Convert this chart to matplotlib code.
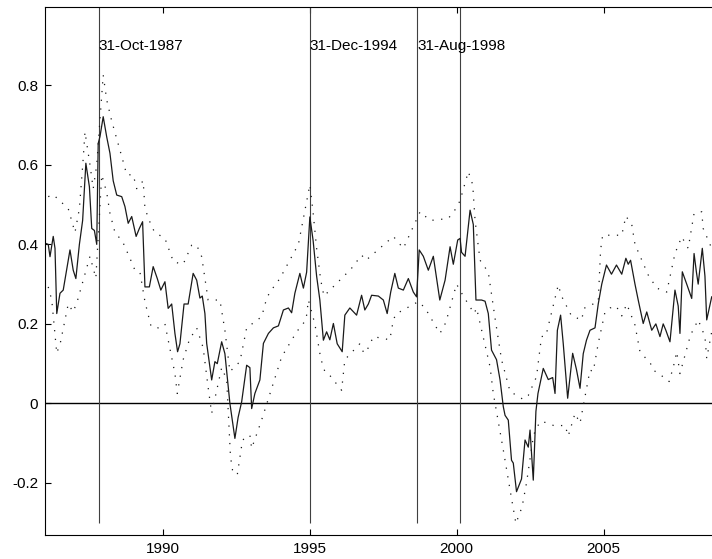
import numpy as np
import matplotlib
matplotlib.use("Agg")
import matplotlib.pyplot as plt

plt.rcParams['font.family'] = ['Liberation Sans', 'DejaVu Sans']

# ana seri (yil, deger)
yil = [1986.00, 1986.11, 1986.17, 1986.28, 1986.34, 1986.40, 1986.51, 1986.62, 1986.85, 1986.96,
       1987.05, 1987.17, 1987.28, 1987.39, 1987.51, 1987.59, 1987.68, 1987.76, 1987.81, 1987.87,
       1987.98, 1988.10, 1988.21, 1988.32, 1988.44, 1988.61, 1988.72, 1988.83, 1988.95, 1989.10,
       1989.21, 1989.32, 1989.40, 1989.55, 1989.68, 1989.82, 1989.94, 1990.08, 1990.19, 1990.31,
       1990.42, 1990.51, 1990.59, 1990.73, 1990.87, 1991.04, 1991.16, 1991.27, 1991.35, 1991.44,
       1991.50, 1991.67, 1991.78, 1991.86, 1992.01, 1992.12, 1992.29, 1992.46, 1992.57, 1992.69,
       1992.86, 1992.97, 1993.03, 1993.14, 1993.31, 1993.43, 1993.60, 1993.77, 1993.94, 1994.11,
       1994.28, 1994.39, 1994.50, 1994.67, 1994.79, 1994.90, 1995.01, 1995.12, 1995.24, 1995.35,
       1995.47, 1995.58, 1995.69, 1995.81, 1995.94, 1996.11, 1996.20, 1996.37, 1996.60, 1996.77,
       1996.88, 1997.00, 1997.11, 1997.34, 1997.51, 1997.64, 1997.76, 1997.90, 1998.02, 1998.19,
       1998.36, 1998.53, 1998.64, 1998.73, 1998.87, 1999.04, 1999.21, 1999.43, 1999.61, 1999.78,
       1999.89, 2000.04, 2000.12, 2000.17, 2000.29, 2000.46, 2000.57, 2000.66, 2000.85, 2000.97,
       2001.08, 2001.19, 2001.36, 2001.48, 2001.59, 2001.65, 2001.76, 2001.87, 2001.93, 2002.04,
       2002.21, 2002.33, 2002.44, 2002.50, 2002.61, 2002.70, 2002.77, 2002.95, 2003.12, 2003.27,
       2003.35, 2003.43, 2003.54, 2003.63, 2003.78, 2003.95, 2004.08, 2004.20, 2004.31, 2004.42,
       2004.54, 2004.71, 2004.82, 2004.94, 2005.10, 2005.27, 2005.44, 2005.62, 2005.76, 2005.84,
       2005.92, 2006.07, 2006.18, 2006.35, 2006.47, 2006.64, 2006.78, 2006.92, 2007.03, 2007.12,
       2007.26, 2007.43, 2007.54, 2007.60, 2007.68, 2007.83, 2008.00, 2008.08, 2008.16, 2008.22,
       2008.36, 2008.45, 2008.51, 2008.68]
deger = [0.403, 0.40, 0.369, 0.42, 0.39, 0.226, 0.277, 0.285, 0.386, 0.335,
         0.314, 0.40, 0.46, 0.604, 0.545, 0.44, 0.435, 0.40, 0.654, 0.671,
         0.721, 0.67, 0.629, 0.56, 0.524, 0.52, 0.495, 0.453, 0.47, 0.42,
         0.44, 0.457, 0.293, 0.293, 0.344, 0.314, 0.285, 0.306, 0.239, 0.25,
         0.176, 0.13, 0.15, 0.25, 0.25, 0.327, 0.31, 0.265, 0.27, 0.226,
         0.151, 0.059, 0.105, 0.10, 0.155, 0.125, 0.0, -0.088, -0.035, 0.004,
         0.096, 0.09, -0.013, 0.025, 0.059, 0.151, 0.176, 0.19, 0.195, 0.235,
         0.24, 0.228, 0.277, 0.327, 0.29, 0.33, 0.469, 0.41, 0.32, 0.26,
         0.159, 0.18, 0.16, 0.201, 0.15, 0.13, 0.222, 0.24, 0.222, 0.272,
         0.235, 0.25, 0.272, 0.27, 0.26, 0.226, 0.28, 0.327, 0.29, 0.285,
         0.314, 0.28, 0.268, 0.386, 0.37, 0.335, 0.37, 0.26, 0.31, 0.394,
         0.35, 0.411, 0.415, 0.38, 0.37, 0.486, 0.45, 0.26, 0.26, 0.257,
         0.226, 0.134, 0.11, 0.059, -0.008, -0.03, -0.042, -0.143, -0.15, -0.222,
         -0.19, -0.092, -0.11, -0.067, -0.193, -0.02, 0.025, 0.088, 0.06, 0.065,
         0.025, 0.184, 0.222, 0.15, 0.013, 0.126, 0.085, 0.038, 0.125, 0.159,
         0.184, 0.19, 0.25, 0.30, 0.348, 0.325, 0.348, 0.325, 0.365, 0.35,
         0.36, 0.30, 0.26, 0.201, 0.23, 0.184, 0.20, 0.168, 0.20, 0.184,
         0.155, 0.285, 0.245, 0.176, 0.331, 0.30, 0.264, 0.377, 0.33, 0.30,
         0.39, 0.32, 0.21, 0.268]

# ust bant
ust_yil = [1986.11, 1986.28, 1986.79, 1987.02, 1987.17, 1987.30, 1987.36, 1987.53, 1987.64, 1987.76,
           1987.98, 1988.10, 1988.27, 1988.66, 1988.78, 1989.00, 1989.12, 1989.34, 1989.40, 1989.63,
           1989.74, 1990.08, 1990.37, 1990.70, 1990.99, 1991.16, 1991.33, 1991.55, 1991.95, 1992.12,
           1992.29, 1992.63, 1992.86, 1993.37, 1993.54, 1993.65, 1993.99, 1994.45, 1994.62, 1995.01,
           1995.12, 1995.24, 1995.38, 1995.49, 1996.26, 1996.43, 1996.77, 1996.92, 1997.85, 1998.19,
           1998.76, 1999.10, 1999.72, 1999.98, 2000.12, 2000.40, 2000.55, 2000.63, 2000.80, 2001.08,
           2001.31, 2001.53, 2001.82, 2002.27, 2002.44, 2002.72, 2002.89, 2003.04, 2003.46, 2003.57,
           2003.91, 2004.26, 2004.33, 2004.82, 2004.90, 2004.97, 2005.62, 2005.76, 2005.96, 2006.07,
           2006.52, 2006.81, 2007.15, 2007.43, 2007.66, 2007.88, 2008.08, 2008.34, 2008.39, 2008.68]
ust = [0.52, 0.525, 0.49, 0.43, 0.49, 0.616, 0.683, 0.60, 0.54, 0.60,
       0.826, 0.763, 0.71, 0.608, 0.575, 0.575, 0.54, 0.56, 0.49, 0.444,
       0.43, 0.415, 0.356, 0.35, 0.398, 0.398, 0.369, 0.26, 0.26, 0.184,
       0.08, 0.105, 0.19, 0.218, 0.264, 0.28, 0.314, 0.377, 0.40, 0.55,
       0.48, 0.39, 0.31, 0.27, 0.327, 0.34, 0.373, 0.36, 0.42, 0.39,
       0.482, 0.46, 0.465, 0.49, 0.51, 0.583, 0.55, 0.46, 0.36, 0.33,
       0.214, 0.11, 0.03, 0.01, 0.02, 0.067, 0.168, 0.17, 0.298, 0.27,
       0.22, 0.21, 0.239, 0.256, 0.386, 0.423, 0.423, 0.471, 0.45, 0.40,
       0.323, 0.29, 0.28, 0.377, 0.419, 0.39, 0.478, 0.482, 0.44, 0.39]

# alt bant
alt_yil = [1986.11, 1986.23, 1986.40, 1986.53, 1986.79, 1986.96, 1987.11, 1987.53, 1987.64, 1987.73,
           1987.93, 1988.10, 1988.21, 1988.38, 1988.64, 1988.89, 1989.06, 1989.23, 1989.40, 1989.61,
           1989.85, 1990.08, 1990.42, 1990.50, 1990.70, 1990.91, 1991.16, 1991.38, 1991.55, 1991.67,
           1992.01, 1992.18, 1992.31, 1992.38, 1992.54, 1992.72, 1992.97, 1993.03, 1993.35, 1993.42,
           1994.05, 1994.56, 1994.88, 1994.96, 1995.18, 1995.38, 1995.52, 1995.64, 1996.09, 1996.20,
           1996.71, 1996.85, 1997.00, 1997.17, 1997.73, 1997.85, 1997.94, 1998.70, 1998.93, 1999.43,
           1999.55, 1999.64, 2000.00, 2000.23, 2000.60, 2000.68, 2001.14, 2001.25, 2001.59, 2001.87,
           2002.02, 2002.23, 2002.38, 2002.61, 2002.67, 2002.84, 2003.04, 2003.35, 2003.69, 2003.80,
           2004.03, 2004.20, 2004.54, 2004.65, 2004.82, 2005.05, 2005.22, 2005.43, 2005.62, 2005.79,
           2006.07, 2006.24, 2006.60, 2006.69, 2006.97, 2007.23, 2007.37, 2007.49, 2007.60, 2007.96,
           2008.22, 2008.45, 2008.51, 2008.68]
alt = [0.293, 0.26, 0.126, 0.155, 0.25, 0.23, 0.26, 0.37, 0.34, 0.315,
       0.575, 0.53, 0.478, 0.43, 0.407, 0.365, 0.335, 0.33, 0.256, 0.193,
       0.19, 0.20, 0.075, 0.025, 0.11, 0.16, 0.19, 0.14, 0.04, -0.025,
       0.09, 0.06, -0.134, -0.168, -0.18, -0.092, -0.08, -0.113, -0.046, -0.03,
       0.117, 0.18, 0.21, 0.26, 0.20, 0.113, 0.08, 0.075, 0.033, 0.11,
       0.15, 0.126, 0.14, 0.168, 0.16, 0.21, 0.225, 0.256, 0.24, 0.176,
       0.19, 0.205, 0.30, 0.27, 0.226, 0.24, 0.092, 0.025, -0.117, -0.239,
       -0.302, -0.26, -0.2, -0.084, -0.07, -0.046, -0.048, -0.057, -0.055, -0.082,
       -0.025, -0.05, 0.084, 0.08, 0.151, 0.23, 0.24, 0.245, 0.22, 0.25,
       0.197, 0.13, 0.10, 0.084, 0.07, 0.055, 0.09, 0.13, 0.075, 0.172,
       0.21, 0.168, 0.113, 0.18]

# olay tarihleri
olay_x = [1987.83, 1995.0, 1998.66, 2000.12]
olay_etiket = ["31-Oct-1987", "31-Dec-1994", "31-Aug-1998", ""]

fig = plt.figure(figsize=(7.12, 5.59), dpi=100)
ax = fig.add_axes([0.0632, 0.0429, 0.9368, 0.9446])

ax.axhline(0, color="black", lw=1.0)
ax.vlines(olay_x, -0.3, 1.0, colors="0.25", lw=0.8)
for x, s in zip(olay_x, olay_etiket):
    if s:
        ax.text(x, 0.9, s, fontsize=11, ha="left", va="center")

# bantlar: seyrek noktalar
ax.plot(ust_yil, ust, color="0.1", lw=0.9, linestyle=(0, (1, 6)))
ax.plot(alt_yil, alt, color="0.1", lw=0.9, linestyle=(0, (1, 6)))
ax.plot(yil, deger, color="0.1", lw=0.9)

ax.set_xlim(1986.0, 2008.69)
ax.set_ylim(-0.331, 0.997)
ax.set_xticks([1990, 1995, 2000, 2005])
ax.set_yticks([-0.2, 0, 0.2, 0.4, 0.6, 0.8])
ax.set_yticklabels(["-0.2", "0", "0.2", "0.4", "0.6", "0.8"])
ax.tick_params(direction="in", length=4, width=0.8, top=True, labelsize=11, pad=5)
ax.spines["right"].set_visible(False)

fig.savefig("out.png", dpi=100)
